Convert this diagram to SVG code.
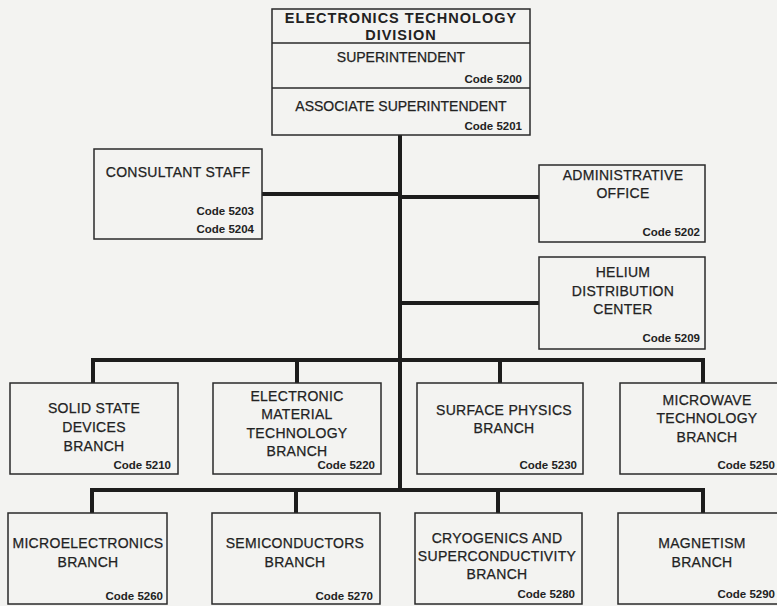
<svg xmlns="http://www.w3.org/2000/svg" width="777" height="606" viewBox="0 0 777 606">
<style>
.bx{fill:none;stroke:#2a2a2a;stroke-width:1.5}
.ln{fill:none;stroke:#1c1c1c;stroke-width:4;stroke-linejoin:miter;stroke-linecap:butt}
text{font-family:"Liberation Sans",Arial,sans-serif;fill:#222}
.t{font-size:14px;text-anchor:middle;letter-spacing:0.3px;stroke:#222;stroke-width:0.25}
.h{font-size:14.5px;font-weight:bold;text-anchor:middle;letter-spacing:1px}
.c{font-size:11.5px;font-weight:bold;text-anchor:end}
</style>
<rect width="777" height="606" fill="#f3f3f1"/>
<g id="connectors">
<path class="ln" d="M400 135 V490"/>
<path class="ln" d="M262 194 H400"/>
<path class="ln" d="M400 197 H539"/>
<path class="ln" d="M400 303 H539"/>
<path class="ln" d="M93 383 V360 H703 V383"/>
<path class="ln" d="M297 360 V383"/>
<path class="ln" d="M500 360 V383"/>
<path class="ln" d="M92 513 V490 H703 V513"/>
<path class="ln" d="M296 490 V513"/>
<path class="ln" d="M498 490 V513"/>
</g>
<g id="division">
<rect class="bx" x="272" y="9" width="258" height="126"/>
<line class="bx" x1="272" y1="43" x2="530" y2="43"/>
<line class="bx" x1="272" y1="88" x2="530" y2="88"/>
<text class="h" x="401" y="23">ELECTRONICS TECHNOLOGY</text>
<text class="h" x="401" y="40">DIVISION</text>
<text class="t" x="401" y="62" style="letter-spacing:0">SUPERINTENDENT</text>
<text class="c" x="522" y="83">Code 5200</text>
<text class="t" x="401" y="111" style="letter-spacing:0">ASSOCIATE SUPERINTENDENT</text>
<text class="c" x="522" y="130">Code 5201</text>
</g>
<g id="consultant">
<rect class="bx" x="94" y="149" width="168" height="90"/>
<text class="t" x="178" y="177">CONSULTANT STAFF</text>
<text class="c" x="254" y="215">Code 5203</text>
<text class="c" x="254" y="233">Code 5204</text>
</g>
<g id="admin">
<rect class="bx" x="539" y="165" width="166" height="77"/>
<text class="t" x="623" y="180">ADMINISTRATIVE</text>
<text class="t" x="623" y="198">OFFICE</text>
<text class="c" x="700" y="236">Code 5202</text>
</g>
<g id="helium">
<rect class="bx" x="539" y="257" width="166" height="92"/>
<text class="t" x="623" y="277">HELIUM</text>
<text class="t" x="623" y="296">DISTRIBUTION</text>
<text class="t" x="623" y="314">CENTER</text>
<text class="c" x="700" y="342">Code 5209</text>
</g>
<g id="b5210">
<rect class="bx" x="10" y="383" width="168" height="91"/>
<text class="t" x="94" y="413">SOLID STATE</text>
<text class="t" x="94" y="432">DEVICES</text>
<text class="t" x="94" y="451">BRANCH</text>
<text class="c" x="171" y="469">Code 5210</text>
</g>
<g id="b5220">
<rect class="bx" x="213" y="383" width="168" height="91"/>
<text class="t" x="297" y="401">ELECTRONIC</text>
<text class="t" x="297" y="419">MATERIAL</text>
<text class="t" x="297" y="438">TECHNOLOGY</text>
<text class="t" x="297" y="456">BRANCH</text>
<text class="c" x="375" y="469">Code 5220</text>
</g>
<g id="b5230">
<rect class="bx" x="417" y="383" width="166" height="91"/>
<text class="t" x="504" y="415">SURFACE PHYSICS</text>
<text class="t" x="504" y="433">BRANCH</text>
<text class="c" x="577" y="469">Code 5230</text>
</g>
<g id="b5250">
<rect class="bx" x="620" y="383" width="170" height="91"/>
<text class="t" x="707" y="405">MICROWAVE</text>
<text class="t" x="707" y="423">TECHNOLOGY</text>
<text class="t" x="707" y="442">BRANCH</text>
<text class="c" x="775" y="469">Code 5250</text>
</g>
<g id="b5260">
<rect class="bx" x="8" y="513" width="159" height="91"/>
<text class="t" x="88" y="548">MICROELECTRONICS</text>
<text class="t" x="88" y="567">BRANCH</text>
<text class="c" x="163" y="600">Code 5260</text>
</g>
<g id="b5270">
<rect class="bx" x="212" y="513" width="168" height="91"/>
<text class="t" x="295" y="548">SEMICONDUCTORS</text>
<text class="t" x="295" y="567">BRANCH</text>
<text class="c" x="373" y="600">Code 5270</text>
</g>
<g id="b5280">
<rect class="bx" x="415" y="513" width="167" height="91"/>
<text class="t" x="497" y="543">CRYOGENICS AND</text>
<text class="t" x="497" y="561">SUPERCONDUCTIVITY</text>
<text class="t" x="497" y="579">BRANCH</text>
<text class="c" x="575" y="598">Code 5280</text>
</g>
<g id="b5290">
<rect class="bx" x="618" y="513" width="172" height="91"/>
<text class="t" x="702" y="548">MAGNETISM</text>
<text class="t" x="702" y="567">BRANCH</text>
<text class="c" x="775" y="598">Code 5290</text>
</g>
</svg>
